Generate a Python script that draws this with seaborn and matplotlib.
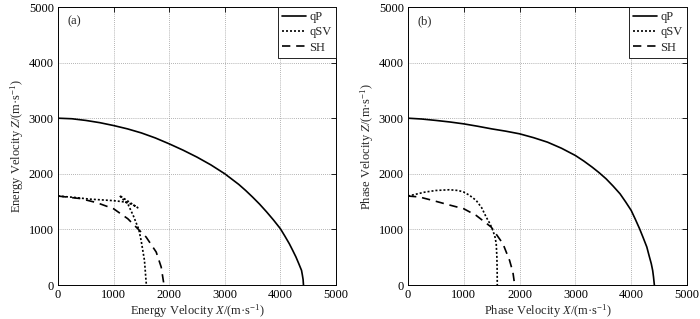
import numpy as np
import pandas as pd
import matplotlib
matplotlib.use("Agg")
import matplotlib.pyplot as plt
import seaborn as sns

# ---------------- data ----------------
# (a) energy velocity
qP_ex = [0, 250, 500, 750, 1000, 1250, 1500, 1750, 2000, 2250, 2500, 2750, 3000, 3125, 3250,
         3375, 3500, 3625, 3750, 3875, 4000, 4080, 4160, 4220, 4280, 4330, 4380, 4395, 4408, 4415]
qP_ez = [3000, 2990, 2960, 2920, 2868, 2808, 2735, 2645, 2539, 2425, 2300, 2160, 2000, 1905, 1810,
         1700, 1581, 1455, 1317, 1170, 1012, 880, 743, 625, 503, 385, 263, 180, 100, 0]

qSV_ex = [0, 300, 565, 800, 985, 1150, 1255, 1350, 1435, 1270, 1105, 1180, 1255, 1353, 1453, 1495, 1555, 1585, 1590]
qSV_ez = [1600, 1575, 1545, 1530, 1518, 1500, 1479, 1440, 1390, 1500, 1611, 1530, 1461, 1250, 1000, 802, 443, 54, 0]

SH_ex = [0, 400, 700, 1000, 1255, 1435, 1585, 1766, 1856, 1898, 1900]
SH_ez = [1600, 1555, 1480, 1371, 1192, 1012, 862, 593, 323, 54, 0]

# (b) phase velocity
qP_px = [0, 250, 500, 750, 1000, 1250, 1500, 1750, 2000, 2250, 2500, 2750, 3000, 3150, 3300,
         3425, 3550, 3675, 3800, 3900, 4000, 4075, 4150, 4215, 4280, 4320, 4360, 4385, 4400, 4415]
qP_pz = [3000, 2985, 2960, 2932, 2898, 2855, 2808, 2767, 2719, 2650, 2569, 2460, 2329, 2230, 2120,
         2020, 1910, 1780, 1640, 1495, 1341, 1180, 1012, 850, 683, 530, 383, 260, 144, 0]

qSV_px = [0, 150, 300, 500, 742, 900, 1000, 1100, 1222, 1320, 1401, 1470, 1521, 1560, 1581, 1593, 1598, 1600]
qSV_pz = [1600, 1635, 1670, 1700, 1713, 1700, 1671, 1615, 1521, 1390, 1222, 1100, 982, 860, 743, 503, 250, 0]

SH_px = [0, 200, 443, 700, 1000, 1222, 1491, 1701, 1820, 1880, 1912]
SH_pz = [1600, 1584, 1521, 1450, 1371, 1251, 1042, 743, 443, 230, 0]

waves = ["qP", "qSV", "SH"]
ticks = [0, 1000, 2000, 3000, 4000, 5000]
panel_labels = ["(a)", "(b)"]
xlabels = [r"Energy Velocity $\mathit{X}$/(m·s$^{-1}$)", r"Phase Velocity $\mathit{X}$/(m·s$^{-1}$)"]
ylabels = [r"Energy Velocity $\mathit{Z}$/(m·s$^{-1}$)", r"Phase Velocity $\mathit{Z}$/(m·s$^{-1}$)"]

# ---------------- style ----------------
sns.set_style("white")
plt.rcParams["font.family"] = ["Liberation Serif", "DejaVu Serif"]
plt.rcParams["mathtext.fontset"] = "custom"
plt.rcParams["mathtext.rm"] = "Liberation Serif"
plt.rcParams["mathtext.it"] = "Liberation Serif:italic"
plt.rcParams["font.size"] = 9

styles = {"qP": "-", "qSV": (0, (1.2, 1.2)), "SH": (0, (5, 3.5))}

fig = plt.figure(figsize=(7.0, 3.19), dpi=100)
ax_a = fig.add_axes([58 / 700, 34 / 319, 278 / 700, 278 / 319])
ax_b = fig.add_axes([408 / 700, 34 / 319, 279 / 700, 278 / 319])

data_sets = [
    [(qP_ex, qP_ez), (qSV_ex, qSV_ez), (SH_ex, SH_ez)],
    [(qP_px, qP_pz), (qSV_px, qSV_pz), (SH_px, SH_pz)],
]

for i, ax in enumerate([ax_a, ax_b]):
    for name, (xs, zs) in zip(waves, data_sets[i]):
        df = pd.DataFrame({"x": xs, "z": zs})
        sns.lineplot(data=df, x="x", y="z", sort=False, estimator=None, ax=ax,
                     color="black", linestyle=styles[name], linewidth=1.2,
                     label=name)
    ax.set_xlim(0, 5000)
    ax.set_ylim(0, 5000)
    ax.set_xticks(ticks)
    ax.set_yticks(ticks)
    ax.set_xticklabels([str(t) for t in ticks])
    ax.set_yticklabels([str(t) for t in ticks])
    ax.grid(True, color="#9a9a9a", linestyle=(0, (1, 1.5)), linewidth=0.6)
    ax.tick_params(direction="in", length=3.5, width=0.6, top=True, right=True,
                   labelsize=9, pad=3, colors="black")
    for sp in ax.spines.values():
        sp.set_visible(True)
        sp.set_color("black")
        sp.set_linewidth(0.7)
    ax.set_xlabel(xlabels[i], fontsize=9, labelpad=1)
    ax.set_ylabel(ylabels[i], fontsize=9, labelpad=2)
    ax.text(0.035, 0.95, panel_labels[i], transform=ax.transAxes, fontsize=9,
            va="center", ha="left")
    leg = ax.legend(loc="upper right", borderaxespad=0, fancybox=False,
                    edgecolor="black", framealpha=1, fontsize=9,
                    handlelength=1.9, handletextpad=0.3, labelspacing=0.25,
                    borderpad=0.35)
    leg.get_frame().set_linewidth(0.6)

fig.savefig("out.png", dpi=100)
